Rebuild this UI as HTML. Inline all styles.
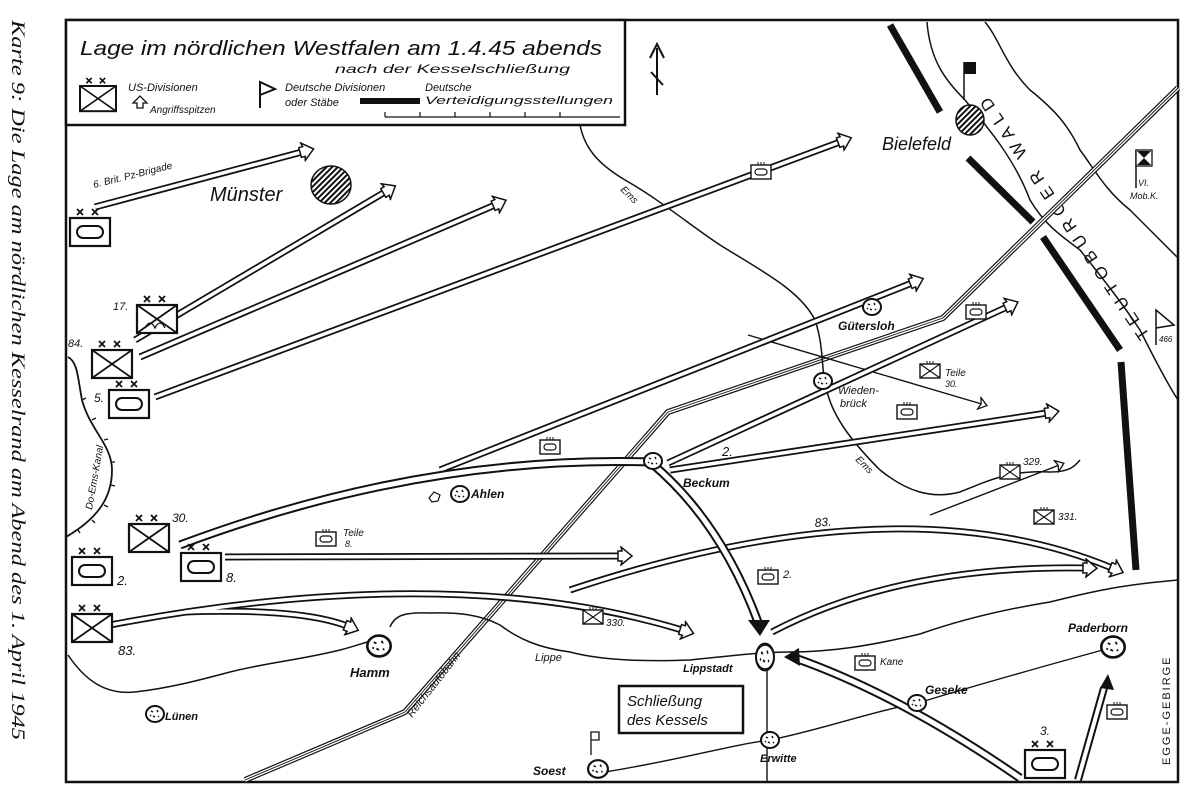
<!DOCTYPE html>
<html><head><meta charset="utf-8"><style>
html,body{margin:0;padding:0;background:#fff;}
svg{display:block;}
text{font-family:"Liberation Sans",sans-serif;fill:#111;}
.h{font-style:italic;}
</style></head><body>
<svg width="1200" height="802" viewBox="0 0 1200 802" xmlns="http://www.w3.org/2000/svg">
<defs>
<marker id="ah" markerUnits="userSpaceOnUse" markerWidth="20" markerHeight="20" refX="4" refY="10" orient="auto">
<path d="M2,5 L6,5 L5,1 L16,10 L5,19 L6,15 L2,15 Z" fill="#fff" stroke="#111" stroke-width="1.5"/>
</marker>
<marker id="bh" markerUnits="userSpaceOnUse" markerWidth="26" markerHeight="26" refX="4" refY="13" orient="auto">
<path d="M2,2 L22,13 L2,24 L6,13 Z" fill="#111"/>
</marker>
<marker id="th" markerUnits="userSpaceOnUse" markerWidth="14" markerHeight="14" refX="8" refY="7" orient="auto">
<path d="M2,1 L10,7 L2,13 L4,7 Z" fill="#fff" stroke="#111" stroke-width="1.3"/>
</marker>
<g id="xb"><rect x="0" y="0" width="40" height="28" fill="#fff" stroke="#111" stroke-width="2.2"/><path d="M0,0 L40,28 M40,0 L0,28" stroke="#111" stroke-width="1.8"/><path d="M7,-9 l6,6 m0,-6 l-6,6 M22,-9 l6,6 m0,-6 l-6,6" stroke="#111" stroke-width="1.8"/></g>
<g id="ab"><rect x="0" y="0" width="40" height="28" fill="#fff" stroke="#111" stroke-width="2.2"/><rect x="7" y="8" width="26" height="12" rx="6" fill="none" stroke="#111" stroke-width="2"/><path d="M7,-9 l6,6 m0,-6 l-6,6 M22,-9 l6,6 m0,-6 l-6,6" stroke="#111" stroke-width="1.8"/></g>
<g id="sa"><rect x="0" y="0" width="20" height="14" fill="#fff" stroke="#111" stroke-width="1.4"/><rect x="4" y="4" width="12" height="6" rx="3" fill="none" stroke="#111" stroke-width="1.2"/><path d="M7,0 v-3 M10,0 v-3 M13,0 v-3" stroke="#111" stroke-width="1"/></g>
<g id="sx"><rect x="0" y="0" width="20" height="14" fill="#fff" stroke="#111" stroke-width="1.4"/><path d="M0,0 L20,14 M20,0 L0,14" stroke="#111" stroke-width="1.1"/><path d="M7,0 v-3 M10,0 v-3 M13,0 v-3" stroke="#111" stroke-width="1"/></g>
<g id="city"><ellipse cx="0" cy="0" rx="9" ry="8" fill="#fff" stroke="#111" stroke-width="2"/><path d="M-4,-3 l2,1 M2,-4 l1,2 M-2,2 l2,1 M3,2 l1,1 M-5,1 l1,1" stroke="#111" stroke-width="1.4"/></g>
<pattern id="hat" width="4" height="4" patternUnits="userSpaceOnUse" patternTransform="rotate(45)"><rect width="4" height="4" fill="#fff"/><rect width="2" height="4" fill="#111"/></pattern>
</defs>

<!-- caption -->
<text class="h" transform="translate(12,20) rotate(90)" x="0" y="0" font-family="Liberation Serif" style="font-family:'Liberation Serif',serif;font-style:italic" font-size="19" textLength="720" lengthAdjust="spacingAndGlyphs">Karte 9: Die Lage am nördlichen Kesselrand am Abend des 1. April 1945</text>

<!-- frame -->
<rect x="66" y="20" width="1112" height="762" fill="none" stroke="#111" stroke-width="2.5"/>
<!-- legend -->
<rect x="66" y="20" width="559" height="105" fill="#fff" stroke="#111" stroke-width="2.5"/>
<text class="h" x="80" y="55" font-size="20" textLength="522" lengthAdjust="spacingAndGlyphs">Lage im nördlichen Westfalen am 1.4.45 abends</text>
<text class="h" x="335" y="73" font-size="12" textLength="235" lengthAdjust="spacingAndGlyphs">nach der Kesselschließung</text>
<use href="#xb" x="80" y="86" transform="translate(80,86) scale(0.9) translate(-80,-86)"/>
<text class="h" x="128" y="91" font-size="11">US-Divisionen</text>
<path d="M133,103 l7,-7 l7,7 h-4 v5 h-6 v-5 z" fill="#fff" stroke="#111" stroke-width="1.3"/>
<text class="h" x="150" y="113" font-size="10">Angriffsspitzen</text>
<path d="M260,108 V82 l15,7 l-15,6" fill="none" stroke="#111" stroke-width="2"/>
<text class="h" x="285" y="91" font-size="11">Deutsche Divisionen</text>
<text class="h" x="285" y="106" font-size="11">oder Stäbe</text>
<rect x="360" y="98" width="60" height="6" fill="#111"/>
<text class="h" x="425" y="91" font-size="11">Deutsche</text>
<text class="h" x="425" y="104" font-size="11" textLength="188" lengthAdjust="spacingAndGlyphs">Verteidigungsstellungen</text>
<path d="M385,117 H620 M385,117 v-5 M420,117 v-5 M455,117 v-5 M490,117 v-5 M525,117 v-5 M560,117 v-5" stroke="#111" stroke-width="1.2" fill="none"/>
<!-- north arrow -->
<path d="M657,48 V95 M650,58 L657,44 L664,58 M651,72 L663,85" stroke="#111" stroke-width="2" fill="none"/>

<!-- Teutoburger Wald band -->
<path d="M927,22 C930,60 945,80 965,100 C990,130 1015,160 1030,200 C1045,225 1060,235 1080,250 C1100,275 1120,300 1140,330 C1150,350 1165,380 1178,400" fill="none" stroke="#111" stroke-width="1.5"/>
<path d="M985,22 C1000,40 1005,65 1030,90 C1055,110 1068,125 1080,150 C1095,170 1105,190 1130,210 C1150,230 1165,245 1178,258" fill="none" stroke="#111" stroke-width="1.5"/>
<text transform="translate(1150,335) rotate(-124)" x="0" y="0" font-size="17" letter-spacing="7">TEUTOBURGER WALD</text>
<!-- defense lines -->
<path d="M890,25 L940,112 M968,158 L1033,222 M1043,237 L1120,350 M1121,362 L1136,570" stroke="#111" stroke-width="7" fill="none"/>
<text transform="translate(1170,765) rotate(-90)" font-size="11" letter-spacing="2">EGGE-GEBIRGE</text>

<!-- Autobahn triple line -->
<g fill="none" stroke-linejoin="round">
<path d="M245,780 L405,712 L668,412 L943,318 L1178,88" stroke="#111" stroke-width="6"/>
<path d="M245,780 L405,712 L668,412 L943,318 L1178,88" stroke="#fff" stroke-width="3.6"/>
<path d="M245,780 L405,712 L668,412 L943,318 L1178,88" stroke="#111" stroke-width="0.9"/>
</g>
<text class="h" transform="translate(412,718) rotate(-52)" font-size="11">Reichsautobahn</text>

<!-- rivers -->
<path d="M580,125 C585,150 600,165 625,180 C660,200 690,225 720,245 C760,270 800,290 815,320 C825,350 820,370 828,395 C835,420 855,445 880,470 C905,490 930,500 960,492 C990,480 1010,470 1050,472 C1070,472 1075,466 1080,460" fill="none" stroke="#111" stroke-width="1.5"/>
<text class="h" x="620" y="190" font-size="10" transform="rotate(45 620 190)">Ems</text>
<text class="h" x="855" y="460" font-size="10" transform="rotate(45 855 460)">Ems</text>
<path d="M68,655 C85,680 105,695 135,692 C170,688 200,680 230,672 C270,662 300,660 340,650 C360,645 370,640 378,640 M390,627 C395,615 405,612 430,613 C460,612 480,615 500,625 C520,640 540,648 570,652 C600,660 640,662 690,660 C730,656 760,652 790,652 C830,652 870,646 920,634 C960,620 1000,610 1050,602 C1090,592 1120,585 1178,580" fill="none" stroke="#111" stroke-width="1.5"/>
<text class="h" x="535" y="661" font-size="11">Lippe</text>
<!-- canal -->
<path d="M68,357 C78,362 78,380 82,400 C90,430 112,445 112,470 C112,500 95,520 66,537" fill="none" stroke="#111" stroke-width="1.8"/>
<path d="M82,400 l4,-2 M92,420 l4,-2 M104,440 l4,-1 M111,462 l4,0 M111,485 l4,1 M104,505 l4,2 M92,520 l3,3 M78,530 l2,3" stroke="#111" stroke-width="1.3"/>
<text class="h" transform="translate(92,510) rotate(-80)" font-size="10">Do-Ems-Kanal</text>

<!-- thin roads -->
<path d="M748,335 L985,405" fill="none" stroke="#111" stroke-width="1.4" marker-end="url(#th)"/>
<path d="M930,515 L1062,464" fill="none" stroke="#111" stroke-width="1.4" marker-end="url(#th)"/>
<path d="M767,662 V782 M605,772 C680,760 730,745 770,740 C820,730 870,712 918,703 C960,690 1030,670 1110,648" fill="none" stroke="#111" stroke-width="1.4"/>

<!-- double arrows -->
<g fill="none" stroke-linecap="butt">
<g stroke="#111" stroke-width="7">
<path d="M95,207 L302,152"/>
<path d="M135,340 L385,192"/>
<path d="M140,357 L495,205"/>
<path d="M155,397 L840,142"/>
<path d="M440,470 L912,283"/>
<path d="M668,463 L1007,307"/>
<path d="M670,470 L1047,413"/>
<path d="M225,557 L620,556"/>
<path d="M110,625 Q450,560 682,630"/>
<path d="M185,612 Q300,608 347,626"/>
<path d="M570,590 Q900,480 1112,568"/>
<path d="M772,632 Q900,565 1085,568"/>
</g>
<g stroke="#fff" stroke-width="3.5">
<path d="M95,207 L302,152" marker-end="url(#ah)"/>
<path d="M135,340 L385,192" marker-end="url(#ah)"/>
<path d="M140,357 L495,205" marker-end="url(#ah)"/>
<path d="M155,397 L840,142" marker-end="url(#ah)"/>
<path d="M440,470 L912,283" marker-end="url(#ah)"/>
<path d="M668,463 L1007,307" marker-end="url(#ah)"/>
<path d="M670,470 L1047,413" marker-end="url(#ah)"/>
<path d="M225,557 L620,556" marker-end="url(#ah)"/>
<path d="M110,625 Q450,560 682,630" marker-end="url(#ah)"/>
<path d="M185,612 Q300,608 347,626" marker-end="url(#ah)"/>
<path d="M570,590 Q900,480 1112,568" marker-end="url(#ah)"/>
<path d="M772,632 Q900,565 1085,568" marker-end="url(#ah)"/>
</g>
<!-- main pincer -->
<path d="M180,545 Q420,455 650,462 Q720,520 758,622" stroke="#111" stroke-width="9"/>
<path d="M180,545 Q420,455 650,462 Q720,520 758,622" stroke="#fff" stroke-width="5"/>
<path d="M1020,778 Q900,695 795,658" stroke="#111" stroke-width="9"/>
<path d="M1020,778 Q900,695 795,658" stroke="#fff" stroke-width="5"/>
<path d="M1078,780 L1104,688" stroke="#111" stroke-width="8"/>
<path d="M1078,780 L1104,688" stroke="#fff" stroke-width="4"/>
</g>
<path d="M748,620 L770,620 L760,636 Z" fill="#111"/>
<path d="M799,648 L784,657 L800,666 Z" fill="#111"/>
<path d="M1100,688 L1108,674 L1114,690 Z" fill="#111"/>

<!-- cities -->
<ellipse cx="331" cy="185" rx="20" ry="19" fill="url(#hat)" stroke="#111" stroke-width="1.5"/>
<ellipse cx="970" cy="120" rx="14" ry="15" fill="url(#hat)" stroke="#111" stroke-width="1.5"/>
<use href="#city" x="872" y="307"/>
<use href="#city" x="823" y="381"/>
<use href="#city" x="653" y="461"/>
<use href="#city" x="460" y="494"/>
<use href="#city" x="379" y="646" transform="translate(379,646) scale(1.3) translate(-379,-646)"/>
<use href="#city" x="155" y="714"/>
<use href="#city" x="765" y="657" transform="translate(765,657) scale(1,1.6) translate(-765,-657)"/>
<use href="#city" x="770" y="740"/>
<use href="#city" x="598" y="769" transform="translate(598,769) scale(1.1) translate(-598,-769)"/>
<use href="#city" x="917" y="703"/>
<use href="#city" x="1113" y="647" transform="translate(1113,647) scale(1.3) translate(-1113,-647)"/>
<path d="M434,492 l-5,6 l3,4 l6,-1 l2,-6 z" fill="#fff" stroke="#111" stroke-width="1.2"/>

<!-- city labels -->
<text class="h" x="210" y="201" font-size="20">Münster</text>
<text class="h" x="882" y="150" font-size="18">Bielefeld</text>
<text class="h" x="838" y="330" font-size="12" font-weight="bold">Gütersloh</text>
<text class="h" x="838" y="394" font-size="11">Wieden-</text>
<text class="h" x="840" y="407" font-size="11">brück</text>
<text class="h" x="683" y="487" font-size="12" font-weight="bold">Beckum</text>
<text class="h" x="471" y="498" font-size="12" font-weight="bold">Ahlen</text>
<text class="h" x="350" y="677" font-size="13" font-weight="bold">Hamm</text>
<text class="h" x="165" y="720" font-size="11" font-weight="bold">Lünen</text>
<text class="h" x="683" y="672" font-size="11" font-weight="bold">Lippstadt</text>
<text class="h" x="533" y="775" font-size="12" font-weight="bold">Soest</text>
<text class="h" x="760" y="762" font-size="11" font-weight="bold">Erwitte</text>
<text class="h" x="925" y="694" font-size="12" font-weight="bold">Geseke</text>
<text class="h" x="1068" y="632" font-size="12" font-weight="bold">Paderborn</text>
<rect x="619" y="686" width="124" height="47" fill="#fff" stroke="#111" stroke-width="2.5"/>
<text class="h" x="627" y="706" font-size="15">Schließung</text>
<text class="h" x="627" y="725" font-size="15">des Kessels</text>

<!-- German flags -->
<path d="M964,100 V62" stroke="#111" stroke-width="1.5"/><rect x="964" y="62" width="12" height="12" fill="#111"/>
<path d="M1136,188 V150" stroke="#111" stroke-width="1.5"/><rect x="1136" y="150" width="16" height="16" fill="#fff" stroke="#111" stroke-width="1.3"/><path d="M1137,151 L1151,151 L1137,165 L1151,165 Z" fill="#111"/>
<text class="h" x="1138" y="186" font-size="9">VI.</text><text class="h" x="1130" y="199" font-size="9">Mob.K.</text>
<path d="M1156,345 V310 L1174,325 L1156,328" fill="#fff" stroke="#111" stroke-width="1.5"/>
<text class="h" x="1159" y="342" font-size="8">466</text>
<path d="M591,755 V732 h8 v8 h-8" fill="#fff" stroke="#111" stroke-width="1.3"/>

<!-- units -->
<use href="#ab" x="70" y="218"/>
<use href="#xb" x="137" y="305"/><path d="M145,328 q5,-10 10,0 q5,-10 10,0" fill="none" stroke="#111" stroke-width="1.3"/>
<use href="#xb" x="92" y="350"/>
<use href="#ab" x="109" y="390"/>
<use href="#xb" x="129" y="524"/>
<use href="#ab" x="72" y="557"/>
<use href="#ab" x="181" y="553"/>
<use href="#xb" x="72" y="614"/>
<use href="#ab" x="1025" y="750"/>
<text class="h" x="113" y="310" font-size="11">17.</text>
<text class="h" x="68" y="347" font-size="11">84.</text>
<text class="h" x="94" y="402" font-size="12">5.</text>
<text class="h" x="172" y="522" font-size="12">30.</text>
<text class="h" x="117" y="585" font-size="13">2.</text>
<text class="h" x="226" y="582" font-size="13">8.</text>
<text class="h" x="118" y="655" font-size="13">83.</text>
<text class="h" x="1040" y="735" font-size="12">3.</text>
<text class="h" transform="translate(94,188) rotate(-14)" font-size="10">6. Brit. Pz-Brigade</text>
<text class="h" x="722" y="456" font-size="13">2.</text>
<text class="h" transform="translate(815,527) rotate(-5)" font-size="12">83.</text>

<!-- small unit symbols -->
<use href="#sa" x="751" y="165"/>
<use href="#sa" x="966" y="305"/>
<use href="#sa" x="897" y="405"/>
<use href="#sa" x="540" y="440"/>
<use href="#sa" x="316" y="532"/>
<use href="#sa" x="758" y="570"/>
<use href="#sa" x="855" y="656"/>
<use href="#sa" x="1107" y="705"/>
<use href="#sx" x="920" y="364"/>
<use href="#sx" x="1000" y="465"/>
<use href="#sx" x="1034" y="510"/>
<use href="#sx" x="583" y="610"/>
<text class="h" x="945" y="376" font-size="10">Teile</text><text class="h" x="945" y="387" font-size="9">30.</text>
<text class="h" x="1023" y="465" font-size="10">329.</text>
<text class="h" x="1058" y="520" font-size="10">331.</text>
<text class="h" x="606" y="626" font-size="10">330.</text>
<text class="h" x="343" y="536" font-size="10">Teile</text><text class="h" x="345" y="547" font-size="9">8.</text>
<text class="h" x="783" y="578" font-size="11">2.</text>
<text class="h" x="880" y="665" font-size="10">Kane</text>
</svg>
</body></html>
